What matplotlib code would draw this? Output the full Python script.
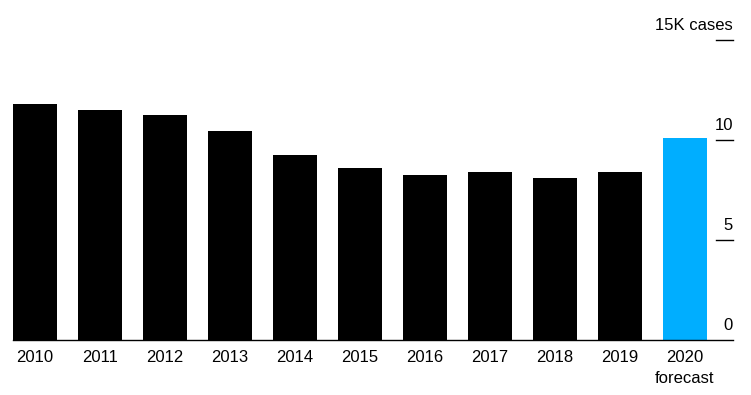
import matplotlib.pyplot as plt

# cases per year, thousands
years = ['2010', '2011', '2012', '2013', '2014', '2015', '2016', '2017', '2018', '2019', '2020\nforecast']
cases = [11.8, 11.5, 11.25, 10.45, 9.25, 8.6, 8.25, 8.4, 8.1, 8.4, 10.1]
colors = ['black'] * 10 + ['#00AEFF']
yticks = [0, 5, 10, 15]
ylabels = ['0', '5', '10', '15K cases']

plt.rcParams['font.family'] = ['Liberation Sans', 'DejaVu Sans']

fig = plt.figure(figsize=(7.51, 3.95), dpi=100)
ax = fig.add_axes([13/751, 55/395, 720/751, 310/395])

x = range(len(years))
ax.bar(x, cases, width=0.68, color=colors)
ax.set_xlim(-0.34, 10.74)
ax.set_ylim(0, 15.5)

for s in ['top', 'right', 'left']:
    ax.spines[s].set_visible(False)
ax.spines['bottom'].set_linewidth(1)
ax.set_yticks([])
ax.set_xticks(list(x))
ax.set_xticklabels(years, fontsize=12, linespacing=1.55)
ax.tick_params(axis='x', length=0, pad=7)

# right side ticks drawn as short lines with labels sitting above
tr = ax.get_yaxis_transform()
for v, lab in zip(yticks, ylabels):
    if v > 0:
        ax.plot([0.976, 1.0], [v, v], color='black', lw=1, transform=tr, clip_on=False)
    ax.annotate(lab, (1.0, v), xycoords=tr, xytext=(0, 5), textcoords='offset points',
                ha='right', va='bottom', fontsize=12)

fig.savefig('out.png', dpi=100)
